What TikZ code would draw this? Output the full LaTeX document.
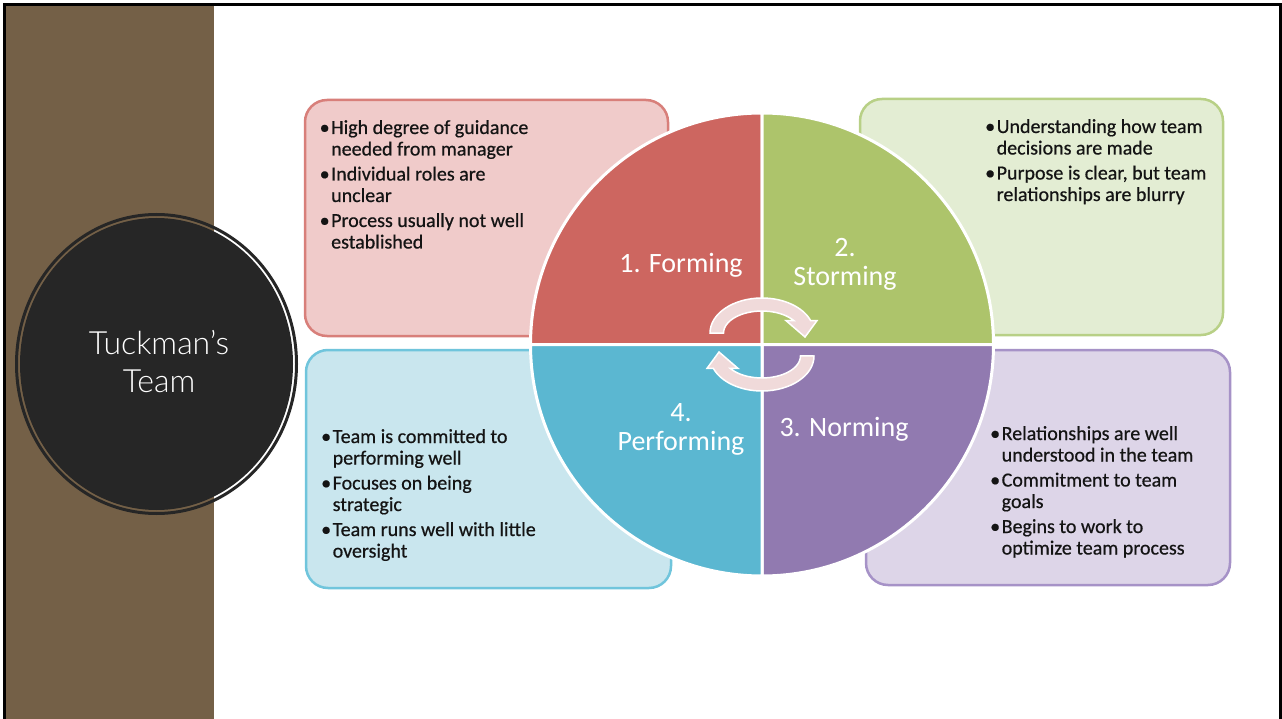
\documentclass[tikz,border=0pt]{standalone}
\usepackage{fontspec}
\setmainfont{Carlito}
\newfontfamily\titlefont{Lato}[UprightFont=* Light]
\newfontfamily\notefont{Carlito}[FakeBold=0.6]
\definecolor{panelbrown}{RGB}{116,96,71}
\definecolor{discdark}{RGB}{38,38,38}
\definecolor{textdark}{RGB}{20,20,20}
\definecolor{formred}{RGB}{205,102,96}
\definecolor{stormgreen}{RGB}{173,196,107}
\definecolor{normpurple}{RGB}{145,122,176}
\definecolor{perfblue}{RGB}{91,183,209}
\definecolor{formfill}{RGB}{240,203,202}
\definecolor{stormfill}{RGB}{227,237,211}
\definecolor{normfill}{RGB}{221,213,232}
\definecolor{perffill}{RGB}{201,230,238}
\definecolor{formline}{RGB}{216,127,122}
\definecolor{stormline}{RGB}{184,208,134}
\definecolor{normline}{RGB}{166,146,199}
\definecolor{perfline}{RGB}{112,197,220}
\definecolor{arrowpink}{RGB}{240,218,218}
\newcommand\bul{\makebox[11.5pt][l]{\textbullet}}
\newcommand\ind{\hspace*{11.5pt}}
\begin{document}
\begin{tikzpicture}[x=1pt,y=1pt,
  notebox/.style={line width=2.5pt, rounded corners=22pt},
  bodytext/.style={anchor=base west, inner sep=0pt, text=textdark,
    font=\notefont\fontsize{20}{21.5}\selectfont},
  stagelabel/.style={anchor=base, inner sep=0pt, text=white,
    font=\fontsize{28}{28.5}\selectfont},
  sector/.style={draw=white, line width=3pt},
  cyclearrow/.pic={
    \filldraw[fill=arrowpink, draw=white, line width=1.5pt]
      (-52,0) arc[start angle=180, end angle=20.7, x radius=52, y radius=35]
      -- (55,12.4) -- (43,-4) -- (24,12.4) -- (31.8,12.4)
      arc[start angle=34.4, end angle=180, x radius=38.5, y radius=22] -- cycle;
  }]
\useasboundingbox (0,0) rectangle (1282,-719);
\fill[white] (0,0) rectangle (1282,-719);

% side panel and slide frame
\fill[panelbrown] (6,-6) rectangle (214,-719);
\draw[black, line width=3pt] (4.5,-725) -- (4.5,-4.5) -- (1280.5,-4.5) -- (1280.5,-725);

% title disc
\draw[discdark, line width=3pt] (156.5,-364) ellipse[x radius=140, y radius=149.5];
\fill[discdark] (156.5,-364) ellipse[x radius=136.5, y radius=146];
\node[anchor=base, inner sep=0pt, text=white, font=\titlefont\fontsize{32}{38}\selectfont]
  (title) at (159,-354) {\begin{tabular}[t]{@{}c@{}}Tuckman’s\\Team\end{tabular}};

% description boxes
\filldraw[notebox, fill=formfill, draw=formline] (305,-100) rectangle (668,-336);
\filldraw[notebox, fill=stormfill, draw=stormline] (860,-99) rectangle (1223,-335);
\filldraw[notebox, fill=perffill, draw=perfline] (306,-350) rectangle (671,-588);
\filldraw[notebox, fill=normfill, draw=normline] (866,-350) rectangle (1230,-585);

\node[bodytext] (formtext) at (319.5,-134) {\begin{tabular}[t]{@{}l@{}}
  \bul High degree of guidance\\ \ind needed from manager\\[3.5pt]
  \bul Individual roles are\\ \ind unclear\\[3.5pt]
  \bul Process usually not well\\ \ind established\end{tabular}};
\node[bodytext] (stormtext) at (985,-133) {\begin{tabular}[t]{@{}l@{}}
  \bul Understanding how team\\ \ind decisions are made\\[3.5pt]
  \bul Purpose is clear, but team\\ \ind relationships are blurry\end{tabular}};
\node[bodytext] (perftext) at (321,-443) {\begin{tabular}[t]{@{}l@{}}
  \bul Team is committed to\\ \ind performing well\\[3.5pt]
  \bul Focuses on being\\ \ind strategic\\[3.5pt]
  \bul Team runs well with little\\ \ind oversight\end{tabular}};
\node[bodytext] (normtext) at (990,-440) {\begin{tabular}[t]{@{}l@{}}
  \bul Relationships are well\\ \ind understood in the team\\[3.5pt]
  \bul Commitment to team\\ \ind goals\\[3.5pt]
  \bul Begins to work to\\ \ind optimize team process\end{tabular}};

% four-stage wheel
\coordinate (hub) at (762,-344.5);
\filldraw[sector, fill=formred] (hub) -- ++(180:231.5) arc[start angle=180, end angle=90, radius=231.5] -- cycle;
\filldraw[sector, fill=stormgreen] (hub) -- ++(90:231.5) arc[start angle=90, end angle=0, radius=231.5] -- cycle;
\filldraw[sector, fill=normpurple] (hub) -- ++(0:231.5) arc[start angle=0, end angle=-90, radius=231.5] -- cycle;
\filldraw[sector, fill=perfblue] (hub) -- ++(-90:231.5) arc[start angle=-90, end angle=-180, radius=231.5] -- cycle;

\node[stagelabel] (forming) at (681,-272.7) {1. Forming};
\node[stagelabel] (storming) at (845,-256.7) {\begin{tabular}[t]{@{}c@{}}2.\\Storming\end{tabular}};
\node[stagelabel] (norming) at (844,-436.7) {3. Norming};
\node[stagelabel] (performing) at (681,-421.7) {\begin{tabular}[t]{@{}c@{}}4.\\Performing\end{tabular}};

% cycle arrows at the hub
\pic at (762,-333) {cyclearrow};
\pic[rotate=180] at (762,-356) {cyclearrow};
\end{tikzpicture}
\end{document}
